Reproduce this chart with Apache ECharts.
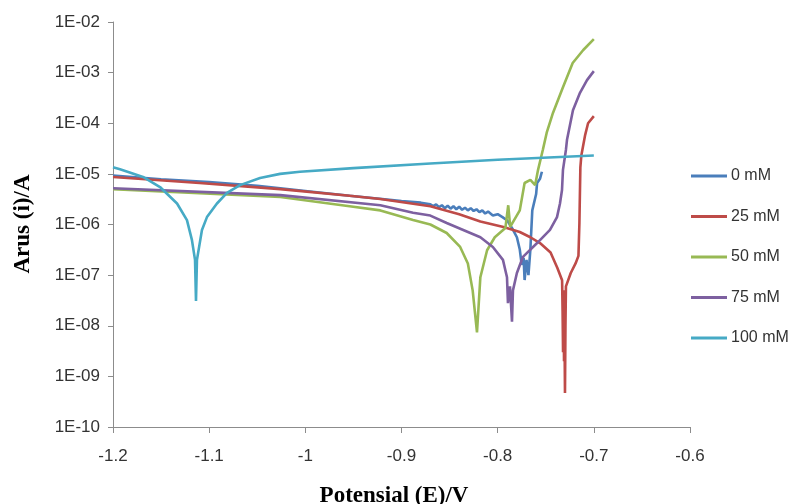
<!DOCTYPE html>
<html><head><meta charset="utf-8">
<script src="https://cdn.jsdelivr.net/npm/echarts@6/dist/echarts.min.js"></script>
<style>html,body{margin:0;padding:0;background:#fff}#c{width:789px;height:504px}</style>
</head><body><div id="c"></div>
<script>
const seriesNames = ['0 mM', '25 mM', '50 mM', '75 mM', '100 mM'];
const xTicks = [-1.2, -1.1, -1.0, -0.9, -0.8, -0.7, -0.6];
const yTickExps = [-10, -9, -8, -7, -6, -5, -4, -3, -2];

const e0 = [-1.200,-1.150,-1.100,-1.050,-1.026,-1.000,-0.954,-0.920,-0.900,-0.880,-0.870,-0.867,-0.864,-0.861,-0.858,-0.855,-0.852,-0.849,-0.846,-0.843,-0.840,-0.837,-0.834,-0.831,-0.828,-0.825,-0.822,-0.819,-0.816,-0.813,-0.810,-0.805,-0.800,-0.795,-0.790,-0.785,-0.780,-0.777,-0.775,-0.773,-0.772,-0.770,-0.768,-0.766,-0.764,-0.760,-0.759,-0.756,-0.754];
const i0 = [9.3e-6,7.8e-6,6.9e-6,5.8e-6,5.2e-6,4.6e-6,3.7e-6,3.2e-6,2.9e-6,2.7e-6,2.5e-6,2.3e-6,2.5e-6,2.2e-6,2.4e-6,2.1e-6,2.35e-6,2.05e-6,2.3e-6,2.0e-6,2.25e-6,1.95e-6,2.15e-6,1.9e-6,2.1e-6,1.85e-6,2.0e-6,1.75e-6,1.9e-6,1.65e-6,1.8e-6,1.5e-6,1.6e-6,1.4e-6,1.2e-6,8.5e-7,5.6e-7,3.2e-7,1.6e-7,2.2e-7,8e-8,2.0e-7,1.0e-7,3.2e-7,1.9e-6,4.0e-6,6.6e-6,8.0e-6,1.1e-5];

const e25 = [-1.200,-1.110,-1.026,-0.954,-0.922,-0.870,-0.840,-0.818,-0.794,-0.777,-0.766,-0.756,-0.745,-0.738,-0.733,-0.7325,-0.732,-0.7315,-0.731,-0.7305,-0.730,-0.7295,-0.729,-0.728,-0.724,-0.719,-0.716,-0.715,-0.714,-0.713,-0.709,-0.706,-0.700];
const i25 = [8.7e-6,6.6e-6,5.0e-6,3.7e-6,3.2e-6,2.3e-6,1.6e-6,1.15e-6,8.9e-7,7.1e-7,5.6e-7,4.3e-7,2.8e-7,1.4e-7,7.9e-8,2e-8,3e-9,5e-8,2e-9,8e-9,4.7e-10,1e-8,6e-8,5.5e-8,1.1e-7,1.7e-7,2.4e-7,1.07e-6,1.35e-5,2.3e-5,5.9e-5,1.0e-4,1.38e-4];

const e50 = [-1.200,-1.026,-0.954,-0.922,-0.888,-0.870,-0.853,-0.839,-0.831,-0.826,-0.8215,-0.818,-0.811,-0.803,-0.792,-0.789,-0.787,-0.777,-0.772,-0.766,-0.761,-0.758,-0.753,-0.749,-0.7425,-0.732,-0.722,-0.711,-0.700];
const i50 = [5.0e-6,3.5e-6,2.3e-6,1.9e-6,1.23e-6,1.0e-6,6.8e-7,3.6e-7,1.7e-7,5e-8,7.4e-9,9.1e-8,3.1e-7,5.6e-7,8.5e-7,2.4e-6,9e-7,1.9e-6,6.6e-6,7.6e-6,6.0e-6,1.2e-5,3e-5,6.5e-5,1.6e-4,5.2e-4,1.55e-3,2.8e-3,4.6e-3];

const e75 = [-1.200,-1.026,-0.922,-0.888,-0.870,-0.853,-0.818,-0.805,-0.7945,-0.7903,-0.7893,-0.7872,-0.7851,-0.7841,-0.780,-0.7737,-0.759,-0.7456,-0.7383,-0.7352,-0.7331,-0.7321,-0.729,-0.7279,-0.7217,-0.7144,-0.7071,-0.700];
const i75 = [5.2e-6,3.8e-6,2.4e-6,1.7e-6,1.5e-6,1.07e-6,5.6e-7,3.6e-7,2e-7,9.1e-8,2.8e-8,6e-8,1.2e-8,5e-8,1.1e-7,2.3e-7,4.3e-7,7.8e-7,1.4e-6,2.6e-6,4.8e-6,1.2e-5,3e-5,4.7e-5,1.8e-4,4e-4,7.1e-4,1.07e-3];

const e100 = [-1.200,-1.1927,-1.1688,-1.1511,-1.1334,-1.1231,-1.1179,-1.1147,-1.1137,-1.1127,-1.1075,-1.1023,-1.0919,-1.0815,-1.0679,-1.0471,-1.0263,-1.0056,-0.950,-0.870,-0.800,-0.700];
const i100 = [1.35e-5,1.23e-5,8.7e-6,5.5e-6,2.6e-6,1.22e-6,4.9e-7,2e-7,3.1e-8,2e-7,7.8e-7,1.4e-6,2.6e-6,4.2e-6,6e-6,8.3e-6,1e-5,1.1e-5,1.3e-5,1.6e-5,1.9e-5,2.3e-5];

const colors = ['#4A7EBB', '#BE4B48', '#98B954', '#7D60A0', '#46AAC5'];
const xs = [e0, e25, e50, e75, e100];
const ys = [i0, i25, i50, i75, i100];

const chart = echarts.init(document.getElementById('c'), null, {renderer: 'canvas'});
const tickFont = 'Liberation Sans, Arial, sans-serif';
chart.setOption({
  animation: false,
  backgroundColor: '#fff',
  color: colors,
  grid: {left: 113, right: 99, top: 22, bottom: 77, containLabel: false},
  xAxis: {
    type: 'value', min: xTicks[0], max: xTicks[xTicks.length - 1], interval: 0.1,
    axisLine: {lineStyle: {color: '#8c8c8c', width: 1}},
    axisTick: {show: true, length: 6, lineStyle: {color: '#8c8c8c'}},
    splitLine: {show: false},
    axisLabel: {fontSize: 17, color: '#333', fontFamily: tickFont, margin: 21,
      formatter: v => String(parseFloat(v.toFixed(1)))}
  },
  yAxis: {
    type: 'log', logBase: 10, min: Math.pow(10, yTickExps[0]), max: Math.pow(10, yTickExps[yTickExps.length - 1]), interval: 1,
    axisLine: {show: true, lineStyle: {color: '#8c8c8c', width: 1}},
    axisTick: {show: true, length: 5, lineStyle: {color: '#8c8c8c'}},
    splitLine: {show: false},
    minorTick: {show: false},
    axisLabel: {fontSize: 17, color: '#333', fontFamily: tickFont, margin: 13,
      formatter: v => { const e = Math.round(Math.log10(v)); return '1E' + (e < 0 ? '-' : '+') + String(Math.abs(e)).padStart(2, '0'); }}
  },
  legend: {
    orient: 'vertical', left: 686, top: 163, itemGap: 24.5,
    itemWidth: 36, itemHeight: 3, icon: 'rect',
    textStyle: {fontSize: 16, color: '#333', fontFamily: tickFont, padding: [0, 0, 0, -1]},
    data: seriesNames
  },
  graphic: [
    {type: 'text', style: {text: 'Potensial (E)/V', x: 0, y: 0, font: 'bold 23px "Liberation Serif", "Times New Roman", serif', fill: '#000', textAlign: 'center', textVerticalAlign: 'middle'}, position: [394, 496]},
    {type: 'text', style: {text: 'Arus (i)/A', font: 'bold 23px "Liberation Serif", "Times New Roman", serif', fill: '#000', textAlign: 'center', textVerticalAlign: 'middle'}, position: [23, 224], rotation: Math.PI / 2}
  ],
  series: seriesNames.map((n, k) => ({
    name: n, type: 'line', showSymbol: false, symbol: 'none',
    lineStyle: {width: 2.6, color: colors[k]},
    itemStyle: {color: colors[k]},
    data: xs[k].map((x, j) => [x, ys[k][j]])
  }))
});
</script></body></html>
